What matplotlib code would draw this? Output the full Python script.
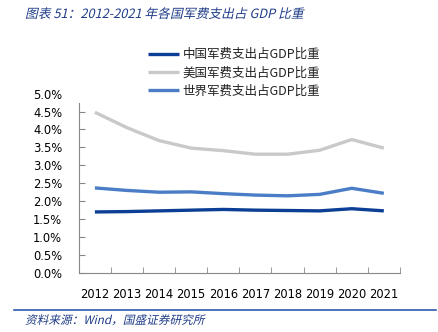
import matplotlib.pyplot as plt
import numpy as np
from matplotlib.font_manager import FontProperties
from matplotlib.patches import PathPatch
from matplotlib.textpath import TextPath
from matplotlib.transforms import Affine2D

years = ['2012', '2013', '2014', '2015', '2016', '2017', '2018', '2019', '2020', '2021']
china = [1.70, 1.71, 1.73, 1.75, 1.77, 1.75, 1.74, 1.73, 1.79, 1.73]
usa = [4.48, 4.05, 3.69, 3.48, 3.41, 3.31, 3.31, 3.42, 3.72, 3.48]
world = [2.37, 2.30, 2.25, 2.26, 2.21, 2.17, 2.15, 2.19, 2.36, 2.22]

series = [
    ('中国军费支出占GDP比重', china, '#0B3F95'),
    ('美国军费支出占GDP比重', usa, '#C9C9C9'),
    ('世界军费支出占GDP比重', world, '#4A7DC6'),
]

cjk = ['Noto Sans CJK SC', 'DejaVu Sans']
navy = '#1F3C88'

W, H = 438, 332
fig = plt.figure(figsize=(W / 100, H / 100), dpi=100)
ax = fig.add_axes([0.180, 0.178, 0.733, 0.540])


def slanted_text(s, x_px, y_px, size, color):
    # CJK fonts have no italic face, so shear the glyph outlines by hand
    path = TextPath((0, 0), s, size=size, prop=FontProperties(family=cjk))
    tr = Affine2D().skew_deg(13, 0).scale(1 / 72).translate(x_px / 100, y_px / 100)
    fig.add_artist(PathPatch(path, transform=tr + fig.dpi_scale_trans,
                             facecolor=color, edgecolor='none'))


x = np.arange(len(years))
for name, vals, col in series:
    ax.plot(x, vals, color=col, lw=2.4, label=name, solid_capstyle='butt')

ax.set_xlim(-0.5, len(years) - 0.5)
ax.set_ylim(0, 5)
ax.set_yticks(np.arange(0, 5.01, 0.5))
ax.set_yticklabels([f'{v:.1f}%' for v in np.arange(0, 5.01, 0.5)])
ax.set_xticks(x)
ax.set_xticklabels(years)
ax.set_xticks(np.arange(-0.5, len(years), 1), minor=True)
ax.tick_params(axis='x', which='major', length=0, pad=11, labelsize=8.3)
ax.tick_params(axis='x', which='minor', direction='in', length=4, color='#888888')
ax.tick_params(axis='y', direction='in', length=4, color='#888888', pad=12, labelsize=8.3)
ax.yaxis.get_major_ticks()[-1].tick1line.set_visible(False)

for side in ('top', 'right'):
    ax.spines[side].set_visible(False)
for side in ('left', 'bottom'):
    ax.spines[side].set_color('#888888')
ax.spines['left'].set_bounds(0, 4.75)

leg = fig.legend(loc='upper left', bbox_to_anchor=(148 / W, 1 - 48 / H), frameon=False,
                 prop={'family': cjk, 'size': 9, 'weight': 'light'}, handlelength=2.5,
                 handletextpad=0.25, labelspacing=0.43, borderpad=0, borderaxespad=0)
for t in leg.get_texts():
    t.set_color('#222222')

slanted_text('图表 51：2012-2021 年各国军费支出占 GDP 比重', 25, H - 18, 9.2, navy)

fig.add_artist(plt.Line2D([14 / W, 436 / W], [1 - 310 / H] * 2, color='#2F5AA8', lw=1.2))
slanted_text('资料来源：Wind，国盛证券研究所', 25, H - 324, 8.4, navy)

fig.savefig('out.png', dpi=100)
